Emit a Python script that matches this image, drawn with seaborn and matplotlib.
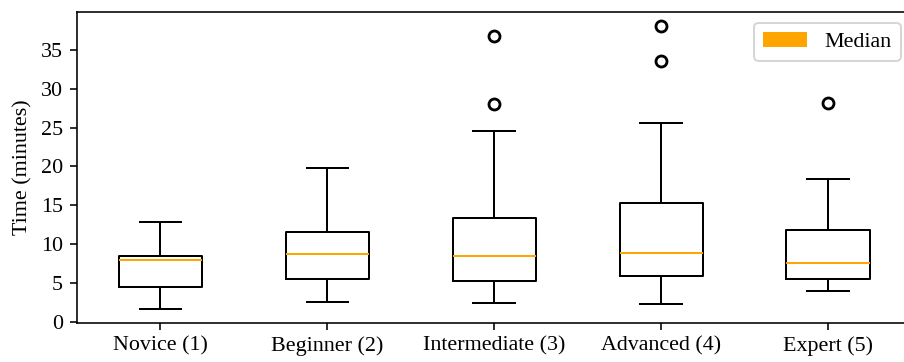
import matplotlib
matplotlib.use("Agg")
import matplotlib.pyplot as plt
from matplotlib.patches import Patch
import pandas as pd
import seaborn as sns

# Completion times (minutes) per experience level
levels = ["Novice (1)", "Beginner (2)", "Intermediate (3)", "Advanced (4)", "Expert (5)"]
novice = [1.6, 4.5, 7.9, 8.5, 12.9]
beginner = [2.5, 5.5, 8.7, 11.5, 19.8]
intermediate = [2.4, 5.2, 5.2, 5.2, 8.4, 8.4, 8.4, 13.3, 13.3, 13.3, 24.6, 28.1, 36.8]
advanced = [2.3, 5.9, 5.9, 5.9, 8.8, 8.8, 8.8, 15.3, 15.3, 15.3, 25.6, 33.6, 38.1]
expert = [3.9, 5.5, 5.5, 7.6, 7.6, 11.8, 11.8, 18.4, 28.2]
yticks = [0, 5, 10, 15, 20, 25, 30, 35]

groups = [novice, beginner, intermediate, advanced, expert]
df = pd.DataFrame(
    [(lvl, v) for lvl, vals in zip(levels, groups) for v in vals],
    columns=["level", "minutes"],
)

plt.rcParams.update({
    "font.family": ["Liberation Serif", "DejaVu Serif"],
    "font.size": 11,
    "axes.linewidth": 0.8,
    "axes.edgecolor": "black",
    "xtick.major.size": 3.5,
    "ytick.major.size": 3.5,
    "xtick.major.width": 0.8,
    "ytick.major.width": 0.8,
})

fig = plt.figure(figsize=(904 / 144, 362 / 144), dpi=144)
ax = fig.add_axes([77 / 904, 39.3 / 362, (911.7 - 77) / 904, 311 / 362])

sns.boxplot(
    data=df, x="level", y="minutes", order=levels, ax=ax,
    width=0.5, fill=False, color="black", linewidth=1.0, whis=1.5,
    medianprops=dict(color="orange", linewidth=1.0),
    flierprops=dict(marker="o", markerfacecolor="none", markeredgecolor="black",
                    markersize=5.5, markeredgewidth=1.4),
)

ax.set_xlabel("")
ax.set_ylabel("Time (minutes)")
ax.set_yticks(yticks)
ax.set_xlim(-0.5, 4.5)
ax.set_ylim(-0.13, 39.93)

ax.legend(handles=[Patch(facecolor="orange", label="Median")], loc="upper right")

fig.savefig("out.png", dpi=144)
